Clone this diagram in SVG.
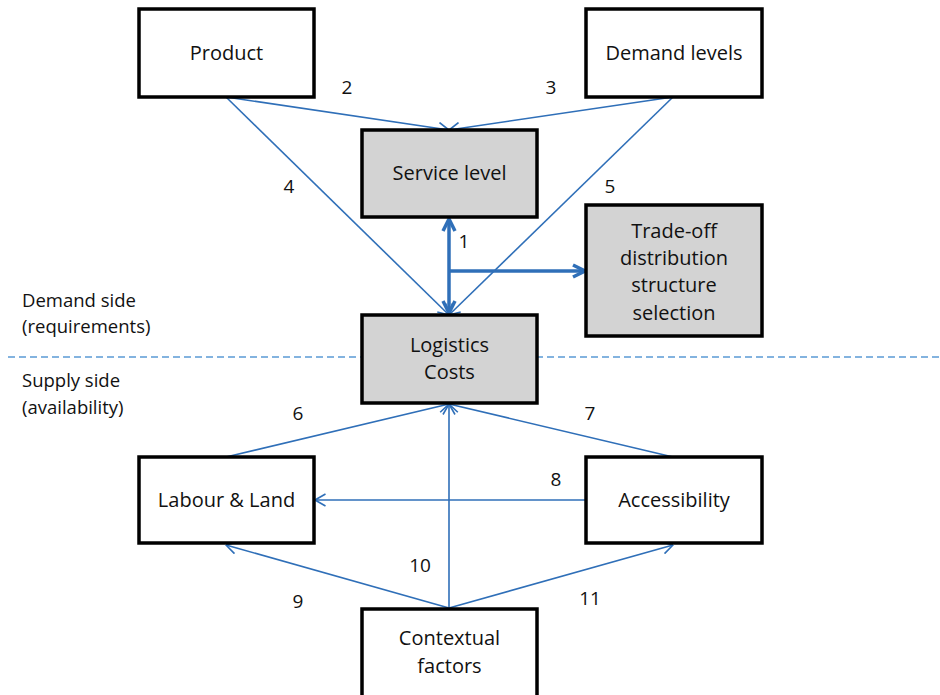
<svg xmlns="http://www.w3.org/2000/svg" width="940" height="695" viewBox="0 0 940 695">
<defs>
<style>
.box{fill:#ffffff;stroke:#000000;stroke-width:3.5}
.grey{fill:#d3d3d3}
.t{font-family:"Open Sans","Liberation Sans",sans-serif;font-size:20px;fill:#111111;text-anchor:middle}
.n{font-family:"Open Sans","Liberation Sans",sans-serif;font-size:19px;fill:#111111;text-anchor:middle}
.l{font-family:"Open Sans","Liberation Sans",sans-serif;font-size:18.5px;fill:#111111}
.c{fill:none;stroke:#2f6fb8;stroke-width:1.6}
.ck{fill:none;stroke:#2f6fb8;stroke-width:3.5}
</style>
<marker id="a" markerUnits="userSpaceOnUse" viewBox="0 0 12 14" refX="11.5" refY="7" markerWidth="12" markerHeight="14" orient="auto">
<path d="M1,1 L11.5,7 L1,13" fill="none" stroke="#2f6fb8" stroke-width="1.6"/>
</marker>
<marker id="ak" markerUnits="userSpaceOnUse" viewBox="0 0 16 16" refX="14" refY="8" markerWidth="16" markerHeight="16" orient="auto-start-reverse">
<path d="M2,2 L14,8 L2,14" fill="none" stroke="#2f6fb8" stroke-width="3.5" stroke-linejoin="miter"/>
</marker>
</defs>
<rect width="940" height="695" fill="#ffffff"/>
<line x1="8" y1="357" x2="940" y2="357" stroke="#5b9bd5" stroke-width="1.4" stroke-dasharray="7,4"/>
<g id="connectors">
<line class="c" x1="226" y1="97" x2="449" y2="130" marker-end="url(#a)"/>
<line class="c" x1="673" y1="97" x2="449" y2="130" marker-end="url(#a)"/>
<line class="c" x1="226" y1="97" x2="449" y2="315" marker-end="url(#a)"/>
<line class="c" x1="673" y1="97" x2="449" y2="315" marker-end="url(#a)"/>
<line class="ck" x1="449" y1="219" x2="449" y2="313" marker-start="url(#ak)" marker-end="url(#ak)"/>
<line class="ck" x1="449" y1="271" x2="585" y2="271" marker-end="url(#ak)"/>
<line class="c" x1="226" y1="457" x2="449" y2="404" marker-end="url(#a)"/>
<line class="c" x1="673" y1="457" x2="449" y2="404" marker-end="url(#a)"/>
<line class="c" x1="585" y1="500" x2="315" y2="500" marker-end="url(#a)"/>
<line class="c" x1="449" y1="608" x2="226" y2="545" marker-end="url(#a)"/>
<line class="c" x1="449" y1="608" x2="449" y2="404" marker-end="url(#a)"/>
<line class="c" x1="449" y1="608" x2="673" y2="545" marker-end="url(#a)"/>
<text class="n" x="347" y="94">2</text>
<text class="n" x="551" y="94">3</text>
<text class="n" x="289" y="193">4</text>
<text class="n" x="610" y="193">5</text>
<text class="n" x="464" y="248">1</text>
<text class="n" x="298" y="420">6</text>
<text class="n" x="590" y="420">7</text>
<text class="n" x="556" y="486">8</text>
<text class="n" x="298" y="608">9</text>
<text class="n" x="420" y="572">10</text>
<text class="n" x="590" y="605">11</text>
</g>
<g id="product"><rect class="box" x="139" y="9" width="175" height="88"/><text class="t" x="226.5" y="60">Product</text></g>
<g id="demand-levels"><rect class="box" x="586" y="9" width="176" height="88"/><text class="t" x="674" y="60">Demand levels</text></g>
<g id="service-level"><rect class="box grey" x="362" y="130" width="175" height="87"/><text class="t" x="449.5" y="180">Service level</text></g>
<g id="trade-off"><rect class="box grey" x="586" y="205" width="176" height="131"/><text class="t" x="674" y="238">Trade-off</text><text class="t" x="674" y="265">distribution</text><text class="t" x="674" y="292">structure</text><text class="t" x="674" y="320">selection</text></g>
<g id="logistics-costs"><rect class="box grey" x="362" y="315" width="175" height="88"/><text class="t" x="449.5" y="352">Logistics</text><text class="t" x="449.5" y="379">Costs</text></g>
<g id="labour-land"><rect class="box" x="139" y="457" width="175" height="86"/><text class="t" x="226.5" y="507">Labour &amp; Land</text></g>
<g id="accessibility"><rect class="box" x="586" y="457" width="176" height="86"/><text class="t" x="674" y="507">Accessibility</text></g>
<g id="contextual-factors"><rect class="box" x="362" y="609" width="175" height="90"/><text class="t" x="449.5" y="645">Contextual</text><text class="t" x="449.5" y="673">factors</text></g>
<g id="side-labels">
<text class="l" x="22" y="307">Demand side</text>
<text class="l" x="22" y="333">(requirements)</text>
<text class="l" x="22" y="387">Supply side</text>
<text class="l" x="22" y="414">(availability)</text>
</g>
</svg>
